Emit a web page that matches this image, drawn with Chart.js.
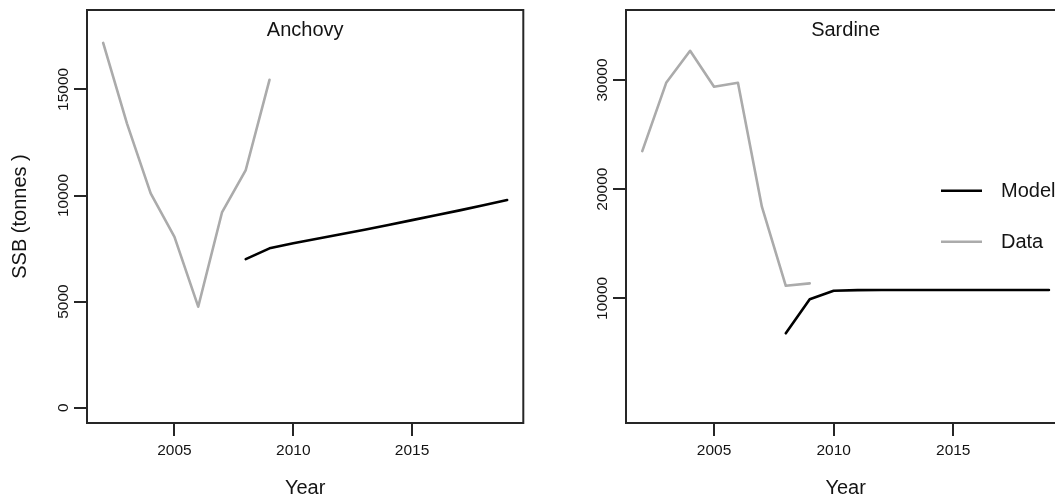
<!DOCTYPE html>
<html>
<head>
<meta charset="utf-8">
<script src="https://cdn.jsdelivr.net/npm/chart.js@4/dist/chart.umd.min.js"></script>
<style>
  html, body { margin: 0; padding: 0; background: #fff; overflow: hidden; width: 1055px; height: 503px; }
  #wrap { position: relative; width: 1055px; height: 503px; overflow: hidden; }
  canvas { position: absolute; top: 0; }
</style>
</head>
<body>
<div id="wrap">
  <canvas id="anchovy" width="545" height="503" style="left:0px"></canvas>
  <canvas id="sardine" width="540" height="503" style="left:539px"></canvas>
</div>
<script>
// Survey years (observed SSB) and model projection years
const dataYears  = [2002, 2003, 2004, 2005, 2006, 2007, 2008, 2009];
const modelYears = [2008, 2009, 2010, 2011, 2012, 2013, 2014, 2015, 2016, 2017, 2018, 2019];

// Anchovy spawning stock biomass (tonnes)
const anchovyData  = [17190, 13400, 10100, 8050, 4760, 9200, 11200, 15450];
const anchovyModel = [7000, 7510, 7750, 7960, 8170, 8390, 8610, 8840, 9070, 9300, 9540, 9790];

// Sardine spawning stock biomass (tonnes)
const sardineData  = [23490, 29740, 32670, 29380, 29740, 18390, 11150, 11370];
const sardineModel = [6800, 9910, 10690, 10750, 10760, 10760, 10760, 10760, 10760, 10760, 10760, 10760];

// Axis tick labels
const yearTicks    = [2005, 2010, 2015];
const anchovyTicks = [0, 5000, 10000, 15000];
const sardineTicks = [10000, 20000, 30000];

const FONT = '"Liberation Sans", Arial, Helvetica, sans-serif';
const INK = '#141414';
const AXIS = '#262626';
const MODEL_COLOR = '#000000';
const DATA_COLOR = '#ababab';

Chart.defaults.font.family = FONT;
Chart.defaults.color = INK;

function pairs(xs, ys) {
  return xs.map((x, i) => ({ x: x, y: ys[i] }));
}

// Box around the plotting region
const frame = {
  id: 'frame',
  afterDatasetsDraw(chart) {
    const { ctx, chartArea: a } = chart;
    ctx.save();
    ctx.strokeStyle = AXIS;
    ctx.lineWidth = 2;
    ctx.strokeRect(a.left, a.top, a.right - a.left, a.bottom - a.top);
    ctx.restore();
  }
};

// Species name inside the top of each panel
const panelTitle = {
  id: 'panelTitle',
  afterDraw(chart, args, opts) {
    const { ctx, chartArea: a } = chart;
    ctx.save();
    ctx.font = '20px ' + FONT;
    ctx.fillStyle = INK;
    ctx.textAlign = 'center';
    ctx.textBaseline = 'alphabetic';
    ctx.fillText(opts.text, (a.left + a.right) / 2, a.top + 26);
    ctx.restore();
  }
};

// Line key built from the dataset labels and colours
const seriesKey = {
  id: 'seriesKey',
  afterDraw(chart, args, opts) {
    if (!opts.show) return;
    const ctx = chart.ctx;
    ctx.save();
    ctx.font = '20px ' + FONT;
    ctx.textAlign = 'left';
    ctx.textBaseline = 'middle';
    chart.data.datasets.forEach((ds, i) => {
      const y = opts.y + i * opts.gap;
      ctx.strokeStyle = ds.borderColor;
      ctx.lineWidth = ds.borderWidth;
      ctx.beginPath();
      ctx.moveTo(opts.x, y);
      ctx.lineTo(opts.x + opts.len, y);
      ctx.stroke();
      ctx.fillStyle = INK;
      ctx.fillText(ds.label, opts.x + opts.len + opts.textGap, y + 1);
    });
    ctx.restore();
  }
};

function makePanel(id, cfg) {
  const tickGrid = {
    display: true,
    drawOnChartArea: false,
    drawTicks: true,
    tickLength: 13,
    tickWidth: 2,
    tickColor: AXIS,
    lineWidth: 2,
    color: AXIS
  };
  return new Chart(document.getElementById(id), {
    type: 'line',
    data: {
      datasets: [
        { label: 'Model', data: pairs(modelYears, cfg.model), borderColor: MODEL_COLOR,
          borderWidth: 2.6, pointRadius: 0, tension: 0, fill: false,
          borderCapStyle: 'round', borderJoinStyle: 'round' },
        { label: 'Data', data: pairs(dataYears, cfg.obs), borderColor: DATA_COLOR,
          borderWidth: 2.6, pointRadius: 0, tension: 0, fill: false,
          borderCapStyle: 'round', borderJoinStyle: 'round' }
      ]
    },
    options: {
      responsive: false,
      animation: false,
      devicePixelRatio: 1,
      events: [],
      layout: { padding: { top: 10, right: cfg.padRight, left: 0, bottom: 0 } },
      plugins: {
        legend: { display: false },
        tooltip: { enabled: false },
        panelTitle: { text: cfg.title },
        seriesKey: cfg.key
      },
      scales: {
        x: {
          type: 'linear',
          min: 2001.32,
          max: 2019.68,
          afterBuildTicks: s => { s.ticks = yearTicks.map(v => ({ value: v })); },
          afterFit: s => { s.height = 80; },
          grid: tickGrid,
          border: { display: false },
          ticks: {
            autoSkip: false, maxRotation: 0, minRotation: 0, padding: 5,
            font: { size: 15.5 }, color: INK,
            callback: v => String(v)
          },
          title: { display: true, text: 'Year', font: { size: 20 }, color: INK,
                   padding: { top: 0, bottom: 3 } }
        },
        y: {
          type: 'linear',
          min: cfg.yMin,
          max: cfg.yMax,
          afterBuildTicks: s => { s.ticks = cfg.yTicks.map(v => ({ value: v })); },
          afterFit: s => { s.width = 87; },
          grid: tickGrid,
          border: { display: false },
          ticks: {
            autoSkip: false, minRotation: 90, maxRotation: 90, crossAlign: 'center',
            padding: -11.2, font: { size: 15.5 }, color: INK,
            callback: v => String(v)
          },
          title: { display: cfg.yTitle !== '', text: cfg.yTitle, font: { size: 20 }, color: INK,
                   padding: { top: 8, bottom: 0 } }
        }
      }
    },
    plugins: [frame, panelTitle, seriesKey]
  });
}

makePanel('anchovy', {
  title: 'Anchovy',
  obs: anchovyData,
  model: anchovyModel,
  yMin: -721, yMax: 18742,
  yTicks: anchovyTicks,
  yTitle: 'SSB (tonnes )',
  padRight: 21.7,
  key: { show: false }
});

makePanel('sardine', {
  title: 'Sardine',
  obs: sardineData,
  model: sardineModel,
  yMin: -1420, yMax: 36411,
  yTicks: sardineTicks,
  yTitle: '',
  padRight: 13.8,
  key: { show: true, x: 402, len: 41, textGap: 19, y: 190.7, gap: 51 }
});
</script>
</body>
</html>
